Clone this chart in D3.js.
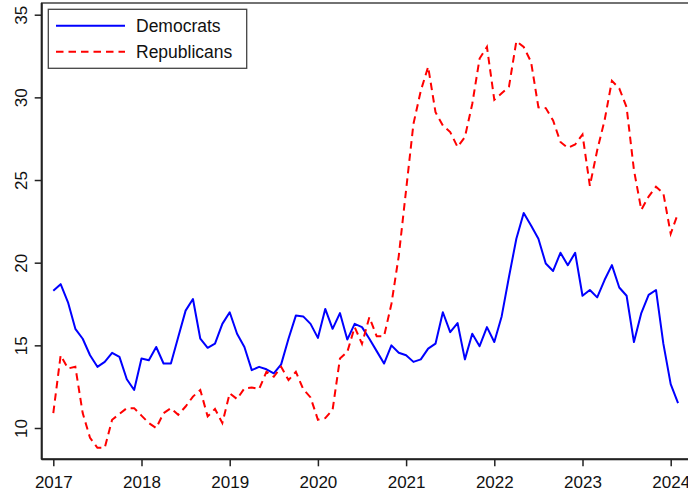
<!DOCTYPE html>
<html>
<head>
<meta charset="utf-8">
<script src="https://cdn.jsdelivr.net/npm/d3@7"></script>
<style>
  html, body { margin: 0; padding: 0; background: #fff; }
  svg { display: block; font-family: "Liberation Sans", Arial, sans-serif; }
</style>
</head>
<body>
<svg id="chart" width="688" height="496"></svg>
<script>
// ---- data (monthly, Jan 2017 .. Feb 2024) ----
const startYear = 2017;
const democrats = [18.3,18.7,17.6,16.0,15.4,14.4,13.7,14.0,14.55,14.3,12.95,12.3,14.2,14.1,14.9,13.9,13.9,15.5,17.1,17.8,15.4,14.85,15.1,16.3,17.0,15.7,14.9,13.5,13.7,13.55,
  13.3,13.85,15.4,16.8,16.75,16.3,15.45,17.2,16.0,16.95,15.35,16.3,16.1,15.4,14.65,13.9,15.0,14.55,14.4,14.0,14.15,14.8,15.1,17.0,15.8,16.35,14.15,15.7,14.95,16.1,
  15.2,16.75,19.15,21.45,23.0,22.25,21.45,19.95,19.5,20.6,19.85,20.6,18.0,18.35,17.9,18.95,19.85,18.5,18.0,15.2,16.95,18.05,18.35,15.1,12.65,11.5];
const republicans = [10.9,14.4,13.6,13.7,10.9,9.4,8.8,8.8,10.5,10.85,11.2,11.2,10.75,10.3,10.0,10.9,11.2,10.8,11.3,11.9,12.3,10.7,11.15,10.3,12.1,11.75,12.4,12.45,12.35,13.4,
  13.1,13.7,12.9,13.4,12.35,11.85,10.5,10.6,11.1,14.2,14.6,16.1,15.1,16.7,15.55,15.55,17.5,20.4,24.4,28.4,30.4,31.85,29.1,28.3,27.9,27.0,27.6,29.6,32.35,33.05,
  29.85,30.25,30.65,33.4,33.05,32.15,29.4,29.35,28.6,27.3,26.95,27.15,27.75,24.65,26.8,28.6,31.0,30.55,29.4,25.6,23.2,24.0,24.6,24.2,21.75,23.0];
const xTicks = [2017,2018,2019,2020,2021,2022,2023,2024];
const yTicks = [10,15,20,25,30,35];
const seriesNames = ["Democrats","Republicans"];

// ---- layout ----
const svg = d3.select("#chart");
const box = {left: 41.7, top: 3, right: 690, bottom: 459.3};
const x = d3.scaleLinear().domain([2017, 2024]).range([53.3, 670.7]);
const y = d3.scaleLinear().domain([10, 35]).range([428, 14.7]);
const t = i => startYear + i / 12;

// frame
svg.append("rect")
  .attr("x", box.left).attr("y", box.top)
  .attr("width", box.right - box.left).attr("height", box.bottom - box.top)
  .attr("fill", "none").attr("stroke", "#444").attr("stroke-width", 1.5);

// axes
const yAxis = svg.append("g").attr("transform", `translate(${box.left},0)`)
  .call(d3.axisLeft(y).tickValues(yTicks).tickSize(7).tickPadding(0).tickFormat(d3.format("d")));
yAxis.select(".domain").attr("d", `M0,${box.top}V${box.bottom}`).attr("stroke", "#222").attr("stroke-width", 2);
yAxis.selectAll(".tick line").attr("stroke", "#222").attr("stroke-width", 1.5);
yAxis.selectAll(".tick text")
  .attr("transform", "rotate(-90)")
  .attr("x", 0).attr("y", -20.5).attr("dy", "0.35em")
  .attr("text-anchor", "middle")
  .attr("font-size", 17).attr("fill", "#111");

const xAxis = svg.append("g").attr("transform", `translate(0,${box.bottom})`)
  .call(d3.axisBottom(x).tickValues(xTicks).tickSize(7).tickPadding(0).tickFormat(d3.format("d")));
xAxis.select(".domain").attr("d", `M${box.left},0H${box.right}`).attr("stroke", "#222").attr("stroke-width", 2);
xAxis.selectAll(".tick line").attr("stroke", "#222").attr("stroke-width", 1.5);
xAxis.selectAll(".tick text")
  .attr("y", 29).attr("dy", 0)
  .attr("font-size", 17).attr("fill", "#111");

// lines
const line = d3.line().x((d, i) => x(t(i))).y(d => y(d));
svg.append("path").datum(democrats)
  .attr("d", line).attr("fill", "none")
  .attr("stroke", "#0000ff").attr("stroke-width", 2).attr("stroke-linejoin", "round");
svg.append("path").datum(republicans)
  .attr("d", line).attr("fill", "none")
  .attr("stroke", "#ff0000").attr("stroke-width", 2).attr("stroke-dasharray", "7.5,5");

// legend
const lg = svg.append("g");
lg.append("rect").attr("x", 48.3).attr("y", 9.3).attr("width", 198.4).attr("height", 59)
  .attr("fill", "#fff").attr("stroke", "#444").attr("stroke-width", 1.3);
const legendItems = [
  {name: seriesNames[0], color: "#0000ff", dash: null, yy: 25.7},
  {name: seriesNames[1], color: "#ff0000", dash: "7.5,5", yy: 51.7}
];
legendItems.forEach(it => {
  lg.append("line").attr("x1", 56).attr("x2", 125).attr("y1", it.yy).attr("y2", it.yy)
    .attr("stroke", it.color).attr("stroke-width", 2)
    .attr("stroke-dasharray", it.dash);
  lg.append("text").attr("x", 136).attr("y", it.yy).attr("dy", "0.35em")
    .attr("font-size", 17.5).attr("fill", "#111").text(it.name);
});
</script>
</body>
</html>
